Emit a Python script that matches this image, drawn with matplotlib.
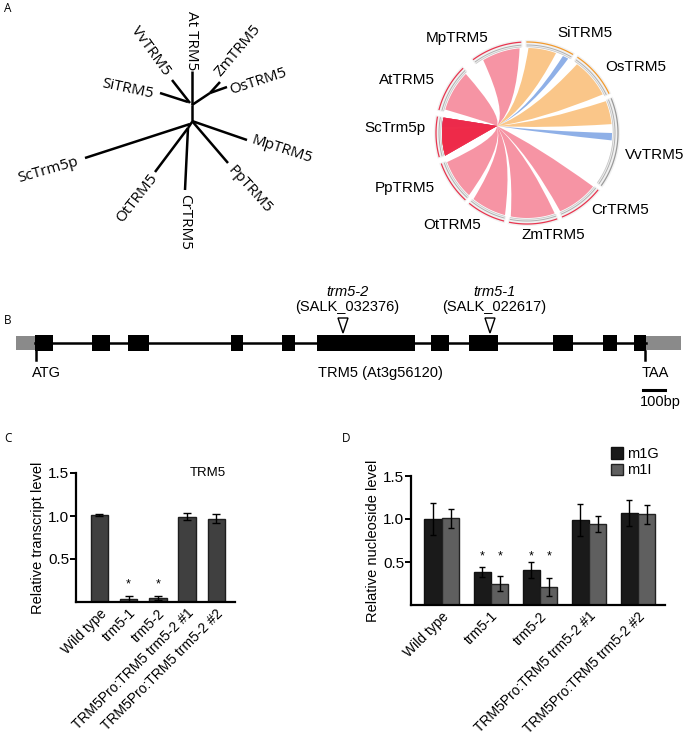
import numpy as np
import matplotlib.pyplot as plt
from matplotlib.patches import Rectangle, Polygon, Wedge, PathPatch
from matplotlib.path import Path

plt.rcParams['font.family'] = ['Liberation Sans', 'DejaVu Sans']

# ---------------- data ----------------
# A, tree: label, branch start, branch end, label pos, rotation (pixel space)
tree_labels = ['At TRM5', 'VvTRM5', 'SiTRM5', 'ZmTRM5', 'OsTRM5',
               'MpTRM5', 'PpTRM5', 'CrTRM5', 'OtTRM5', 'ScTrm5p']
tree_from = [(192, 105), (190, 103), (188, 102), (210, 93), (210, 93),
             (192, 121), (192, 121), (188, 128), (188, 128), (190, 124)]
tree_to = [(192, 71), (172, 80), (160, 93), (220, 82), (227, 87),
           (247, 140), (228, 163), (185, 190), (155, 172), (85, 158)]
tree_inner = [((192, 105), (192, 122)), ((192, 105), (210, 93)),
              ((192, 122), (188, 128))]
tree_lpos = [(192, 41), (151, 51), (128, 89), (238, 51), (258, 82),
             (282, 150), (250, 190), (185, 222), (137, 198), (48, 170)]
tree_rot = [-90, -54, -12, 50, 18, -18, -48, -90, 52, 16]

# A, chord diagram
chord_names = ['SiTRM5', 'MpTRM5', 'AtTRM5', 'ScTrm5p', 'PpTRM5',
               'OtTRM5', 'ZmTRM5', 'CrTRM5', 'VvTRM5', 'OsTRM5']
chord_start = [59, 93, 134, 169, 199, 230, 258, 292, 324, 25]
chord_end = [91, 127, 166, 196, 228, 256, 290, 322, 383, 57]
chord_col = ['#f29a2e', '#e8354f', '#e8354f', '#e8354f', '#e8354f',
             '#e8354f', '#e8354f', '#e8354f', '#9a9a9a', '#f29a2e']
chord_lpos = [(585, 33), (457, 38), (407, 80), (395, 128), (405, 188),
              (452, 225), (553, 235), (620, 210), (655, 155), (636, 67)]
# links from ScTrm5p (blue first, then orange, red on top)
link_kind = ['blue'] * 2 + ['orange'] * 3 + ['red'] * 6
link_a1 = [61, -5, 70, 27, 6, 95, 136, 200, 231, 259, 293]
link_a2 = [65, 0, 89, 54, 22, 121, 164, 227, 255, 289, 321]
link_b1 = [170] * 2 + [178] * 3 + [169.5] * 6
link_b2 = [176] * 2 + [193] * 3 + [195.5] * 6

# B, gene model (pixel positions along the line)
exon_start = [35, 92, 128, 231, 282, 317, 431, 469, 553, 603, 634]
exon_end = [53, 110, 149, 243, 295, 415, 449, 498, 573, 617, 646]
utr = [(16, 35), (646, 681)]
inserts = ['trm5-2', 'trm5-1']
insert_id = ['(SALK_032376)', '(SALK_022617)']
insert_x = [343, 490]

# C
genotypes = ['Wild type', 'trm5-1', 'trm5-2',
             'TRM5Pro:TRM5 trm5-2 #1', 'TRM5Pro:TRM5 trm5-2 #2']
transcript = [1.01, 0.03, 0.045, 0.99, 0.97]
transcript_err = [0.012, 0.04, 0.025, 0.04, 0.05]
transcript_sig = [False, True, True, False, False]

# D
m1G = [1.00, 0.38, 0.405, 0.985, 1.066]
m1G_err = [0.19, 0.06, 0.09, 0.185, 0.15]
m1I = [1.01, 0.25, 0.21, 0.94, 1.054]
m1I_err = [0.11, 0.09, 0.10, 0.09, 0.11]
sig = [False, True, True, False, False]

# ---------------- figure ----------------
fig = plt.figure(figsize=(6.88, 7.36), dpi=100)
ax0 = fig.add_axes([0, 0, 1, 1])
ax0.set_xlim(0, 688)
ax0.set_ylim(736, 0)
ax0.axis('off')

pf = ['Open Sans', 'DejaVu Sans']
for lab, pos in zip('ABCD', [(4, 8), (4, 321), (4, 438), (342, 438)]):
    ax0.text(pos[0], pos[1], lab, fontsize=8.5, family=pf, ha='left', va='center')

# tree
for (x0, y0), (x1, y1) in tree_inner:
    ax0.plot([x0, x1], [y0, y1], color='black', lw=1.8, solid_capstyle='butt')
for p0, p1 in zip(tree_from, tree_to):
    ax0.plot([p0[0], p1[0]], [p0[1], p1[1]], color='black', lw=1.8,
             solid_capstyle='butt')
for lab, (x, y), r in zip(tree_labels, tree_lpos, tree_rot):
    ax0.text(x, y, lab, fontsize=11, family=pf, rotation=r,
             ha='center', va='center', rotation_mode='anchor')

# chord
cx, cy, R = 527, 133, 85


def pt(a, r=R):
    t = np.radians(a)
    return np.array([cx + r * np.cos(t), cy - r * np.sin(t)])


pinch = np.array([497.0, 126.0])
centre = np.array([cx, cy], dtype=float)


def bow(p):
    m = 0.5 * (p + pinch)
    return m + 0.45 * (centre - m)


kind_col = {'red': ('#ee2a4a', 0.5), 'orange': ('#f7a13a', 0.6),
            'blue': ('#6a96e0', 0.75)}
for a1, a2, b1, b2, k in zip(link_a1, link_a2, link_b1, link_b2, link_kind):
    verts, codes = [], []
    for i, a in enumerate(np.linspace(a1, a2, 40)):
        verts.append(pt(a))
        codes.append(Path.MOVETO if i == 0 else Path.LINETO)
    verts += [bow(pt(a2)), pinch, pt(b1)]
    codes += [Path.CURVE3, Path.CURVE3, Path.LINETO]
    for a in np.linspace(b1, b2, 15)[1:]:
        verts.append(pt(a))
        codes.append(Path.LINETO)
    verts += [pinch, bow(pt(a1)), pt(a1), pt(a1)]
    codes += [Path.LINETO, Path.CURVE3, Path.CURVE3, Path.CLOSEPOLY]
    c, al = kind_col[k]
    ax0.add_patch(PathPatch(Path(verts, codes), fc=c, ec='none', alpha=al))

for s, e, c in zip(chord_start, chord_end, chord_col):
    ax0.add_patch(Wedge((cx, cy), R + 8, -e, -s, width=7, fc='#f1f1f1',
                        ec='none'))
    aa = np.linspace(s + 1, e - 1, 50)
    xs, ys = zip(*[pt(a, R + 6) for a in aa])
    ax0.plot(xs, ys, color=c, lw=0.9)
    xs, ys = zip(*[pt(a, R + 3) for a in aa])
    ax0.plot(xs, ys, color='#b0b0b0', lw=0.7)
    xs, ys = zip(*[pt(a, R + 1.2) for a in aa])
    ax0.plot(xs, ys, color='#c8c8c8', lw=0.6)
for lab, (x, y) in zip(chord_names, chord_lpos):
    ax0.text(x, y, lab, fontsize=11, ha='center', va='center')

# gene model
ly = 343
ax0.plot([exon_start[0], exon_end[-1]], [ly, ly], color='black', lw=1.8)
for a, b in utr:
    ax0.add_patch(Rectangle((a, ly - 7), b - a, 14, fc='#8a8a8a', ec='none'))
for a, b in zip(exon_start, exon_end):
    ax0.add_patch(Rectangle((a, ly - 8), b - a, 16, fc='black', ec='none'))
ax0.plot([36, 36], [ly + 8, 360], color='black', lw=1.8)
ax0.plot([645, 645], [ly + 8, 360], color='black', lw=1.8)
ax0.text(46, 373, 'ATG', fontsize=10.5, ha='center', va='center')
ax0.text(655, 373, 'TAA', fontsize=10.5, ha='center', va='center')
ax0.text(380, 373, 'TRM5 (At3g56120)', fontsize=10.5, ha='center', va='center')
ax0.plot([643, 665], [390, 390], color='black', lw=2.2)
ax0.text(660, 402, '100bp', fontsize=10.5, ha='center', va='center')
for name, sid, x in zip(inserts, insert_id, insert_x):
    ax0.add_patch(Polygon([(x - 5, 318), (x + 5, 318), (x, 333)], closed=True,
                          fc='white', ec='black', lw=1.0))
    ax0.text(x + 4, 307, sid, fontsize=10.5, ha='center', va='center')
    ax0.text(x + 4, 292, name, fontsize=10.5, style='italic',
             ha='center', va='center')


def style_axes(ax):
    for sp in ['top', 'right']:
        ax.spines[sp].set_visible(False)
    for sp in ['left', 'bottom']:
        ax.spines[sp].set_linewidth(1.6)
    ax.set_ylim(0, 1.5)
    ax.set_yticks([0.5, 1.0, 1.5])
    ax.set_yticklabels(['0.5', '1.0', '1.5'])
    ax.tick_params(axis='y', length=4, width=1.4, labelsize=11, pad=1)
    ax.tick_params(axis='x', length=0, labelsize=10, pad=3)
    ax.set_xticks(range(len(genotypes)))
    ax.set_xticklabels(genotypes, rotation=45, ha='right',
                       rotation_mode='anchor')


# C
axC = fig.add_axes([76 / 688, 134 / 736, 159 / 688, 129 / 736])
x = np.arange(len(genotypes))
axC.bar(x, transcript, width=0.6, color='#404040', edgecolor='#1e1e1e', lw=1.0)
axC.errorbar(x, transcript, yerr=transcript_err, fmt='none', ecolor='black',
             elinewidth=1.0, capsize=3, capthick=1.0)
for xi, s in zip(x, transcript_sig):
    if s:
        axC.text(xi, 0.2, '*', ha='center', va='center', fontsize=9)
axC.set_xlim(-0.8, 4.64)
style_axes(axC)
axC.set_ylabel('Relative transcript level', fontsize=10.5, labelpad=2)
axC.text(3.7, 1.5, 'TRM5', fontsize=9.5, ha='center', va='center')

# D
axD = fig.add_axes([411 / 688, 131 / 736, 254 / 688, 129 / 736])
w = 0.35
axD.bar(x - 0.18, m1G, width=w, color='#1a1a1a', edgecolor='#111111',
        lw=1.0, label='m1G')
axD.bar(x + 0.18, m1I, width=w, color='#5f5f5f', edgecolor='#222222',
        lw=1.0, label='m1I')
axD.errorbar(x - 0.18, m1G, yerr=m1G_err, fmt='none', ecolor='black',
             elinewidth=1.0, capsize=2.5, capthick=1.0)
axD.errorbar(x + 0.18, m1I, yerr=m1I_err, fmt='none', ecolor='black',
             elinewidth=1.0, capsize=2.5, capthick=1.0)
for xi, s in zip(x, sig):
    if s:
        axD.text(xi - 0.18, 0.56, '*', ha='center', va='center', fontsize=9)
        axD.text(xi + 0.18, 0.56, '*', ha='center', va='center', fontsize=9)
axD.set_xlim(-0.63, 4.55)
style_axes(axD)
axD.set_ylabel('Relative nucleoside level', fontsize=10.5, labelpad=2)
axD.legend(loc='upper right', bbox_to_anchor=(1.0, 1.27), frameon=False,
           fontsize=10.5, handlelength=0.8, handleheight=0.8,
           handletextpad=0.3, labelspacing=0.15, borderaxespad=0)

fig.savefig('out.png', dpi=100)
